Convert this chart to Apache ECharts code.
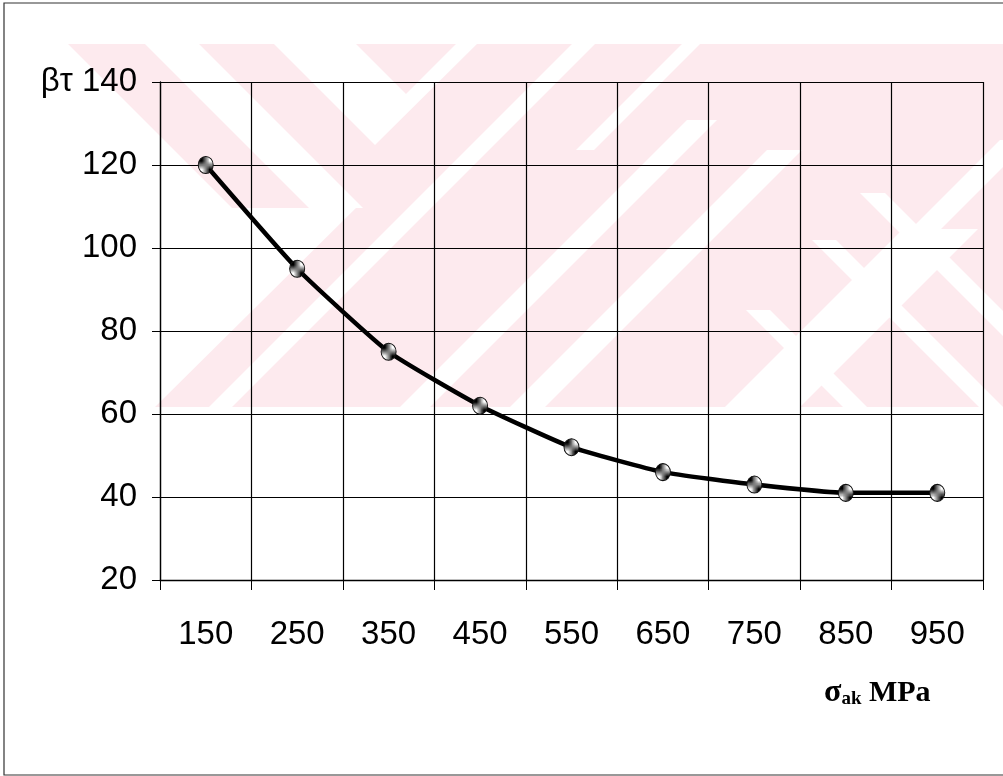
<!DOCTYPE html>
<html>
<head>
<meta charset="utf-8">
<style>
  html, body { margin: 0; padding: 0; background: #fff; }
  #chart { width: 1003px; height: 776px; }
</style>
<script src="https://cdn.jsdelivr.net/npm/echarts@6/dist/echarts.min.js"></script>
</head>
<body>
<div id="chart"></div>
<script>
// --- data ---
const strengthLabels = ['150', '250', '350', '450', '550', '650', '750', '850', '950'];
const betaValues = [120, 95, 75, 62, 52, 46, 43, 41, 41];
const yTicks = { min: 20, max: 140, step: 20 };

// checkered fill used by the markers
function makeChecker() {
  const c = document.createElement('canvas');
  c.width = 4;
  c.height = 4;
  const ctx = c.getContext('2d');
  ctx.fillStyle = '#fff';
  ctx.fillRect(0, 0, 4, 4);
  ctx.fillStyle = '#000';
  ctx.fillRect(0, 0, 2, 2);
  ctx.fillRect(2, 2, 2, 2);
  return c;
}

// faint pink watermark of the scanned page, drawn as white cut-outs on a pink block
const PINK = '#fdeaee';
function cut(points) {
  return {
    type: 'polygon',
    z: -9,
    silent: true,
    shape: { points },
    style: { fill: '#fff' },
  };
}
// 45 degree stripe: x range at y1, running down to y2 ('\\' moves right, '/' moves left)
function stripe(x1, x2, y1, y2, dir) {
  const s = dir === '\\' ? y2 - y1 : y1 - y2;
  return cut([[x1, y1], [x2, y1], [x2 + s, y2], [x1 + s, y2]]);
}

const watermark = [
  {
    type: 'rect',
    z: -10,
    silent: true,
    shape: { x: 68, y: 44, width: 940, height: 363 },
    style: { fill: PINK },
  },
  // left white wedge under the first pink band
  cut([[60, 36], [232, 208], [356, 208], [155, 407], [60, 407]]),
  stripe(145, 199, 44, 208, '\\'),
  // white V near the top
  cut([[274, 44], [356, 44], [406, 94], [456, 44], [477, 44], [375, 145]]),
  stripe(572, 595, 44, 407, '/'),
  stripe(682, 700, 44, 150, '/'),
  stripe(687, 717, 120, 407, '/'),
  stripe(767, 802, 150, 407, '/'),
  stripe(903, 978, 229, 407, '/'),
  stripe(1000, 1030, 140, 407, '/'),
  // lower right strokes
  stripe(860, 885, 193, 407, '\\'),
  stripe(812, 836, 240, 407, '\\'),
  stripe(746, 770, 310, 407, '\\'),
];

const chart = echarts.init(document.getElementById('chart'));

const sansFont = "'Liberation Sans', Arial, sans-serif";
const serifFont = "'Liberation Serif', 'Times New Roman', serif";

chart.setOption({
  backgroundColor: '#fff',
  animation: false,
  title: {
    left: 819,
    top: 672,
    text: '{s|σ}{sub|ak}{b| MPa}',
    textStyle: {
      rich: {
        s: { fontFamily: serifFont, fontSize: 32, color: '#000', lineHeight: 32 },
        sub: {
          fontFamily: serifFont,
          fontSize: 19,
          fontWeight: 'bold',
          color: '#000',
          lineHeight: 14,
          verticalAlign: 'bottom',
        },
        b: { fontFamily: serifFont, fontSize: 30, fontWeight: 'bold', color: '#000', lineHeight: 32 },
      },
    },
  },
  grid: {
    left: 160,
    right: 20,
    top: 82,
    bottom: 196,
  },
  xAxis: {
    type: 'category',
    data: strengthLabels,
    boundaryGap: true,
    axisLine: { show: true, lineStyle: { color: '#000', width: 1.3 } },
    axisTick: { show: true, length: 10, lineStyle: { color: '#000' } },
    splitLine: { show: true, interval: 0, lineStyle: { color: '#000', width: 1.2 } },
    axisLabel: {
      interval: 0,
      margin: 38,
      fontFamily: sansFont,
      fontSize: 33,
      color: '#000',
    },
  },
  yAxis: {
    type: 'value',
    min: yTicks.min,
    max: yTicks.max,
    interval: yTicks.step,
    axisLine: { show: true, lineStyle: { color: '#000', width: 1.3 } },
    axisTick: { show: true, length: 8, lineStyle: { color: '#000' } },
    splitLine: { show: true, lineStyle: { color: '#000', width: 1.2 } },
    axisLabel: {
      margin: 23,
      fontFamily: sansFont,
      fontSize: 33,
      color: '#000',
      formatter: (v) => (v === yTicks.max ? 'βτ ' + v : String(v)),
    },
  },
  series: [
    {
      type: 'line',
      data: betaValues,
      smooth: 0.15,
      symbol: 'circle',
      symbolSize: [15, 17],
      lineStyle: { color: '#000', width: 4.5 },
      itemStyle: {
        color: { image: makeChecker(), repeat: 'repeat' },
        borderColor: '#111',
        borderWidth: 1,
      },
      z: 5,
    },
  ],
  graphic: [
    ...watermark,
    {
      type: 'rect',
      z: 100,
      silent: true,
      shape: { x: 4, y: 3, width: 1010, height: 772 },
      style: { fill: 'none', stroke: '#333', lineWidth: 1.2 },
    },
  ],
});
</script>
</body>
</html>
